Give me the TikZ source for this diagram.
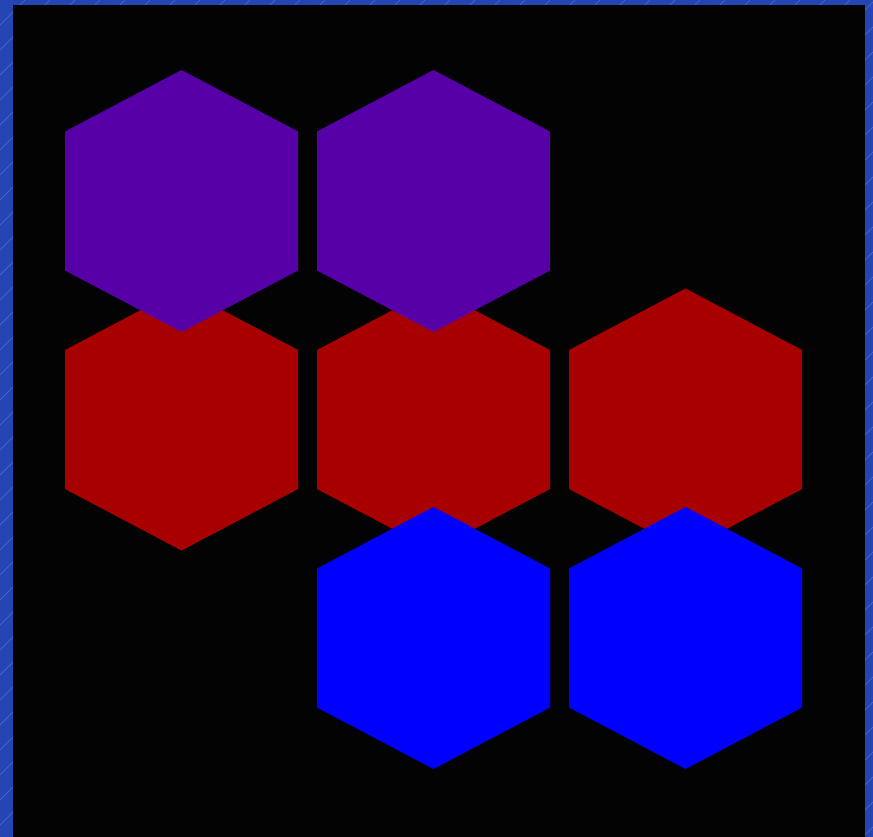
\documentclass[tikz,border=0pt]{standalone}
\definecolor{bordblue}{HTML}{2446B4}
\definecolor{hatch}{HTML}{4E6ECC}
\definecolor{hexpurple}{HTML}{5800A8}
\definecolor{hexred}{HTML}{A80000}
\definecolor{hexblue}{HTML}{0000FF}
\definecolor{bgblack}{HTML}{030303}
\newcommand\hexcell[3]{\fill[#3] (#1,#2) ++(0,-131.5) -- ++(116.5,61.5) -- ++(0,139) -- ++(-116.5,61.5) -- ++(-116.5,-61.5) -- ++(0,-139) -- cycle;}
\tikzset{purplehex/.style={fill=hexpurple}, redhex/.style={fill=hexred}, bluehex/.style={fill=hexblue}}
\begin{document}
\begin{tikzpicture}[x=1pt,y=-1pt]
\useasboundingbox (0,0) rectangle (873,837);
\fill[bordblue] (0,0) rectangle (873,837);
\begin{scope}
\clip (0,0) rectangle (873,837);
\foreach \c in {0,25,...,1725} {
  \draw[hatch, line width=0.5pt] (\c,0) -- (\c-900,900);
}
\end{scope}
\fill[bgblack] (13,5) rectangle (865,837);
% red row
\hexcell{181.5}{420}{redhex}
\hexcell{433.5}{420}{redhex}
\hexcell{685.5}{420}{redhex}
% purple row
\hexcell{181.5}{201.5}{purplehex}
\hexcell{433.5}{201.5}{purplehex}
% blue row
\hexcell{433.5}{638.5}{bluehex}
\hexcell{685.5}{638.5}{bluehex}
\end{tikzpicture}
\end{document}
